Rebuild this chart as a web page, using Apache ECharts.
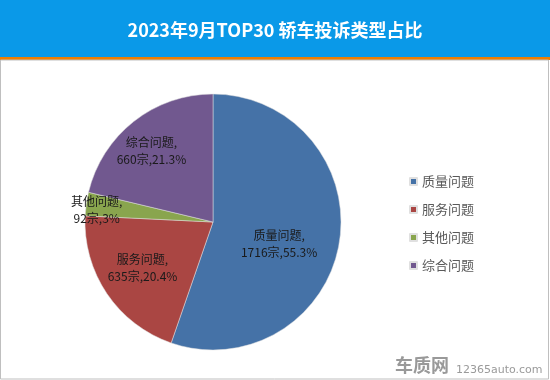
<!DOCTYPE html>
<html><head><meta charset="utf-8">
<script src="https://cdn.jsdelivr.net/npm/echarts@6/dist/echarts.min.js"></script>
<style>html,body{margin:0;padding:0;background:#fff}#c{width:550px;height:380px}</style>
</head><body><div id="c"></div>
<script>
const categories = ['质量问题', '服务问题', '其他问题', '综合问题'];
const counts = [1716, 635, 92, 660];
const percents = ['55.3%', '20.4%', '3%', '21.3%'];
const colors = ['#4572A7', '#AA4643', '#89A54E', '#71588F'];
const labelOffsets = [[0, 11], [-15, 8], [-50, -3], [-20, -18]];
const titleText = '2023年9月TOP30 轿车投诉类型占比';

const chart = echarts.init(document.getElementById('c'));
const data = categories.map((n, i) => ({
  name: n, value: counts[i],
  itemStyle: { color: colors[i] },
  label: { offset: labelOffsets[i] }
}));
chart.setOption({
  animation: false,
  backgroundColor: '#fff',
  title: {
    text: titleText, left: 'center', top: 16,
    textStyle: { color: '#fff', fontSize: 18, fontWeight: 'bold', fontFamily: 'Noto Sans CJK SC' }
  },
  legend: {
    orient: 'vertical', left: 404, top: 170, itemGap: 15,
    itemWidth: 7, itemHeight: 7, icon: 'rect',
    textStyle: { color: '#595959', fontSize: 13, fontFamily: 'Noto Sans CJK SC' },
    data: categories
  },
  graphic: [
    { type: 'rect', z: -10, shape: { x: 0, y: 0, width: 550, height: 58 }, style: { fill: '#0A99E8' } },
    { type: 'rect', z: -10, shape: { x: 0, y: 57, width: 550, height: 3 }, style: { fill: '#F07E00' } },
    { type: 'rect', z: -10, shape: { x: 0.5, y: 60, width: 548, height: 319 }, style: { fill: 'none', stroke: '#BFBFBF', lineWidth: 1 } },
    { type: 'text', left: 395, top: 356, style: { text: '车质网', fill: '#999999', font: 'bold 18px "Noto Sans CJK SC"' } },
    { type: 'text', left: 456, top: 365, style: { text: '12365auto.com', fill: '#9a9a9a', font: '11px "DejaVu Sans"' } }
  ],
  series: [{
    type: 'pie',
    center: [213, 222],
    radius: [0, 128],
    startAngle: 90,
    clockwise: true,
    data: data,
    itemStyle: { borderColor: '#e0e0e0', borderWidth: 0.5 },
    label: {
      show: true, position: 'inside',
      color: '#1a1a1a', fontSize: 12, lineHeight: 17,
      fontFamily: 'Noto Sans CJK SC',
      formatter: p => p.name + ',\n' + p.value + '宗,' + percents[p.dataIndex]
    },
    labelLine: { show: false }
  }]
});
</script></body></html>
